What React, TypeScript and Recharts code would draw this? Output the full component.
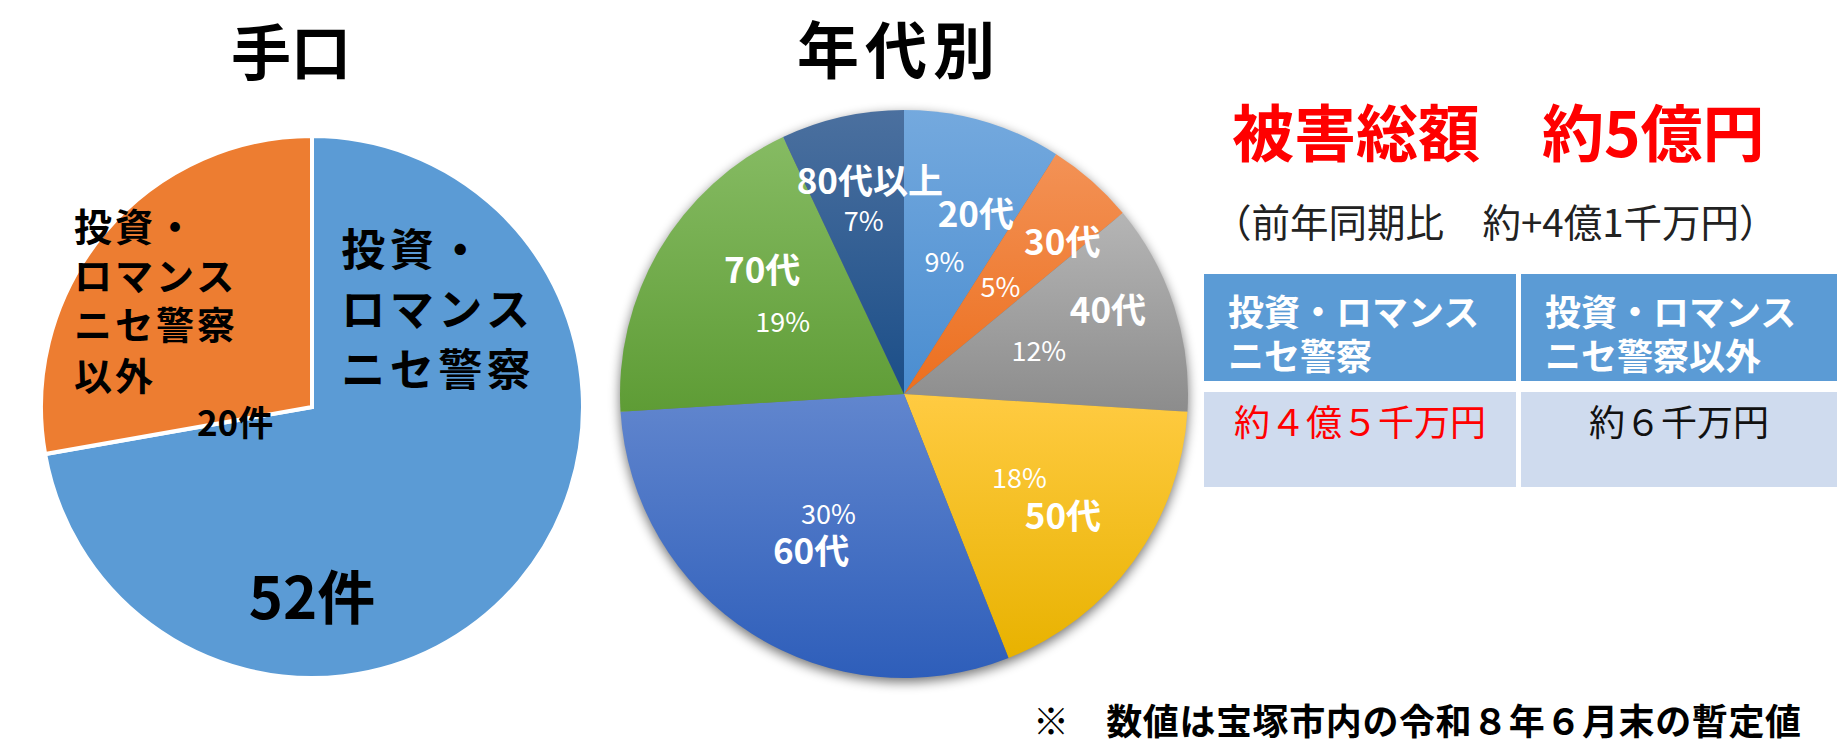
import React from 'react';
import { PieChart, Pie, Cell } from 'recharts';

// ---------------- data ----------------
const methodCategories = ['投資・ロマンスニセ警察', '投資・ロマンスニセ警察以外'];
const methodLabelLines = [
  ['投資・', 'ロマンス', 'ニセ警察'],
  ['投資・', 'ロマンス', 'ニセ警察', '以外'],
];
const methodCounts = [52, 20];
const countUnit = '件';

const ageCategories = ['20代', '30代', '40代', '50代', '60代', '70代', '80代以上'];
const agePercents = [9, 5, 12, 18, 30, 19, 7];

const chartTitles = ['手口', '年代別'];
const totalHeadline = '被害総額　約5億円';
const totalComparison = '（前年同期比　約+4億1千万円）';
const tableHeaders = [
  ['投資・ロマンス', 'ニセ警察'],
  ['投資・ロマンス', 'ニセ警察以外'],
];
const tableAmounts = ['約４億５千万円', '約６千万円'];
const footnote = '※　数値は宝塚市内の令和８年６月末の暫定値';

// ---------------- styles ----------------
const FONT = '"Noto Sans CJK JP", "Noto Sans", sans-serif';
const methodColors = ['#5b9bd5', '#ed7d31'];
const ageGradients = [
  ['#74a9de', '#4a8dd0'],
  ['#f39256', '#ec6f1e'],
  ['#b5b5b5', '#8c8c8c'],
  ['#ffcb42', '#e8b200'],
  ['#6186ce', '#2e5eba'],
  ['#86bb63', '#5e9c35'],
  ['#4b709f', '#1b4e88'],
];

// label layout (fractions of outer radius)
const methodLayout = [
  { nx: 0.108, ny: [-0.59, -0.369, -0.148], nSize: 44, nSpacing: 4.5, vx: 0, vy: 0.69, vSize: 58 },
  { nx: -0.878, ny: [-0.675, -0.491, -0.31, -0.122], nSize: 38, nSpacing: 3, vx: -0.284, vy: 0.048, vSize: 35 },
];
const ageLayout = [
  { nShift: 5.3, nR: 0.69, pShift: 0.7, pR: 0.49 },
  { nShift: 4.2, nR: 0.78, pShift: 0.3, pR: 0.51 },
  { nShift: -5, nR: 0.78, pShift: -0.3, pR: 0.5 },
  { nShift: 0.9, nR: 0.7, pShift: -0.4, pR: 0.5 },
  { nShift: -1.4, nR: 0.635, pShift: 0.1, pR: 0.495 },
  { nShift: 11.2, nR: 0.67, pShift: 0.8, pR: 0.5 },
  { nShift: 3.6, nR: 0.77, pShift: -0.4, pR: 0.63 },
];

const methodData = methodCategories.map((name, i) => ({ name, value: methodCounts[i] }));
const ageData = ageCategories.map((name, i) => ({ name, value: agePercents[i] }));
const ageTotal = agePercents.reduce((a, b) => a + b, 0);
const shadowData = [{ name: 'all', value: ageTotal }];

const RAD = Math.PI / 180;

const renderMethodLabel = (p: any) => {
  const { cx, cy, outerRadius: R, index } = p;
  const L = methodLayout[index];
  if (!L) return null;
  return (
    <g>
      {methodLabelLines[index].map((line, k) => (
        <text
          key={k}
          x={cx + L.nx * R}
          y={cy + L.ny[k] * R}
          textAnchor="start"
          dominantBaseline="central"
          fontSize={L.nSize}
          fontWeight={700}
          fontFamily={FONT}
          letterSpacing={L.nSpacing}
          fill="#000"
        >
          {line}
        </text>
      ))}
      <text
        x={cx + L.vx * R}
        y={cy + L.vy * R}
        textAnchor="middle"
        dominantBaseline="central"
        fontSize={L.vSize}
        fontWeight={700}
        fontFamily={FONT}
        fill="#000"
      >
        {`${methodCounts[index]}${countUnit}`}
      </text>
    </g>
  );
};

const renderAgeLabel = (p: any) => {
  const { cx, cy, outerRadius: R, index, midAngle } = p;
  const L = ageLayout[index];
  if (!L) return null;
  const na = (midAngle - L.nShift) * RAD;
  const pa = (midAngle - L.pShift) * RAD;
  return (
    <g>
      <text
        x={cx + L.nR * R * Math.cos(na)}
        y={cy - L.nR * R * Math.sin(na)}
        textAnchor="middle"
        dominantBaseline="central"
        fontSize={35}
        fontWeight={700}
        fontFamily={FONT}
        fill="#fff"
      >
        {ageCategories[index]}
      </text>
      <text
        x={cx + L.pR * R * Math.cos(pa)}
        y={cy - L.pR * R * Math.sin(pa)}
        textAnchor="middle"
        dominantBaseline="central"
        fontSize={27}
        fontWeight={400}
        fontFamily={FONT}
        fill="#fff"
      >
        {`${agePercents[index]}%`}
      </text>
    </g>
  );
};

const abs = (x: number, y: number, extra: React.CSSProperties = {}): React.CSSProperties => ({
  position: 'absolute',
  left: x,
  top: y,
  whiteSpace: 'nowrap',
  lineHeight: 1,
  fontFamily: FONT,
  ...extra,
});

export default function App() {
  return (
    <div style={{ position: 'relative', width: 1846, height: 745, background: '#fff', overflow: 'hidden' }}>
      <style>{'body{margin:0;background:#fff;}'}</style>
      <PieChart width={1846} height={745} margin={{ top: 0, right: 0, bottom: 0, left: 0 }}>
        <defs>
          {ageGradients.map(([top, bottom], i) => (
            <linearGradient key={i} id={`ageGrad${i}`} x1="0" y1="0" x2="0" y2="1">
              <stop offset="0%" stopColor={top} />
              <stop offset="100%" stopColor={bottom} />
            </linearGradient>
          ))}
          <filter id="ageShadow" x="-15%" y="-15%" width="130%" height="135%">
            <feGaussianBlur stdDeviation="6" />
            <feOffset dx="0" dy="4" />
            <feComponentTransfer>
              <feFuncA type="linear" slope="0.55" />
            </feComponentTransfer>
          </filter>
        </defs>
        <Pie
          data={methodData}
          dataKey="value"
          nameKey="name"
          cx={312}
          cy={407}
          outerRadius={271}
          startAngle={90}
          endAngle={-270}
          stroke="#fff"
          strokeWidth={4}
          label={renderMethodLabel}
          labelLine={false}
          isAnimationActive={false}
        >
          {methodData.map((d, i) => (
            <Cell key={d.name} fill={methodColors[i]} />
          ))}
        </Pie>
        <Pie
          data={shadowData}
          dataKey="value"
          cx={904}
          cy={394}
          outerRadius={284}
          startAngle={90}
          endAngle={-270}
          stroke="none"
          label={false}
          labelLine={false}
          isAnimationActive={false}
        >
          <Cell fill="#000" filter="url(#ageShadow)" />
        </Pie>
        <Pie
          data={ageData}
          dataKey="value"
          nameKey="name"
          cx={904}
          cy={394}
          outerRadius={284}
          startAngle={90}
          endAngle={-270}
          stroke="none"
          label={renderAgeLabel}
          labelLine={false}
          isAnimationActive={false}
        >
          {ageData.map((d, i) => (
            <Cell key={d.name} fill={`url(#ageGrad${i})`} />
          ))}
        </Pie>
      </PieChart>

      {/* titles */}
      <div style={abs(291, 49, { transform: 'translate(-50%,-50%)', fontSize: 60, fontWeight: 700, color: '#000' })}>
        {chartTitles[0]}
      </div>
      <div
        style={abs(899, 47, {
          transform: 'translate(-50%,-50%)',
          fontSize: 62,
          fontWeight: 700,
          letterSpacing: 6,
          color: '#000',
        })}
      >
        {chartTitles[1]}
      </div>

      {/* total */}
      <div style={abs(1232, 130, { transform: 'translateY(-50%)', fontSize: 62, fontWeight: 700, color: '#ff0000' })}>
        {totalHeadline}
      </div>
      <div style={abs(1213, 220, { transform: 'translateY(-50%)', fontSize: 38.5, fontWeight: 400, color: '#222' })}>
        {totalComparison}
      </div>

      {/* table */}
      {[
        { x: 1204, w: 312 },
        { x: 1521, w: 316 },
      ].map((c, i) => (
        <React.Fragment key={i}>
          <div
            style={{
              position: 'absolute',
              left: c.x,
              top: 274,
              width: c.w,
              height: 107,
              background: '#5b9bd5',
              boxSizing: 'border-box',
              paddingLeft: 24,
              paddingTop: 14,
              fontFamily: FONT,
              fontWeight: 700,
              fontSize: 36,
              lineHeight: '44px',
              color: '#fff',
              whiteSpace: 'nowrap',
            }}
          >
            {tableHeaders[i][0]}
            <br />
            {tableHeaders[i][1]}
          </div>
          <div
            style={{
              position: 'absolute',
              left: c.x,
              top: 392,
              width: c.w,
              height: 95,
              background: '#cfdbee',
              boxSizing: 'border-box',
              paddingTop: 8,
              textAlign: 'center',
              fontFamily: FONT,
              fontWeight: 400,
              fontSize: 36,
              lineHeight: '40px',
              color: i === 0 ? '#ff0000' : '#111',
              whiteSpace: 'nowrap',
            }}
          >
            {tableAmounts[i]}
          </div>
        </React.Fragment>
      ))}

      {/* footnote */}
      <div style={abs(1033, 719, { transform: 'translateY(-50%)', fontSize: 36, fontWeight: 700, color: '#000', letterSpacing: 0.6 })}>
        {footnote}
      </div>
    </div>
  );
}
